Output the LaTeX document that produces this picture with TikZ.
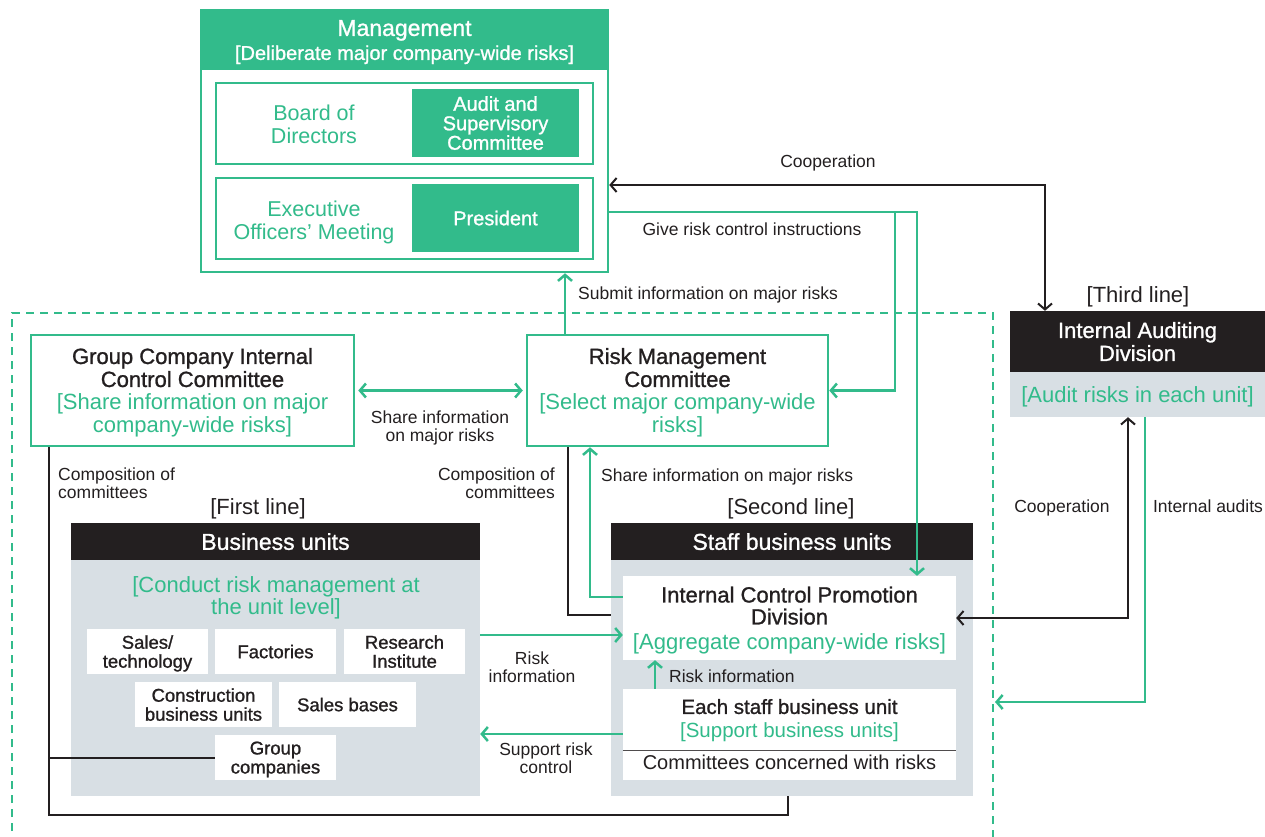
\documentclass[tikz,border=0pt]{standalone}
\usepackage{fontspec}
\setmainfont{Liberation Sans}
\newfontfamily\medfont[FakeBold=1.1]{Liberation Sans}
\usepackage{xcolor}
\usepackage{tikz}
\usetikzlibrary{arrows.meta,calc}
\definecolor{riskgreen}{RGB}{50,187,139}
\definecolor{riskblack}{RGB}{35,31,32}
\definecolor{riskgray}{RGB}{216,223,228}
\newcommand{\grn}[1]{{\normalfont\color{riskgreen}#1}}
\tikzset{framenode/.style={shape=rectangle,draw=riskgreen,line width=2.5pt,fill=white,inner sep=0pt,align=center,text depth=0pt,text=riskblack,font=\fontsize{22}{23}\selectfont\medfont},
	fillnode/.style={shape=rectangle,fill=riskgreen,inner sep=0pt,align=center,text depth=0pt,text=white,font=\fontsize{20}{19.5}\selectfont\medfont},
	headnode/.style={shape=rectangle,fill=riskblack,inner sep=0pt,align=center,text depth=0pt,text=white,font=\fontsize{23}{23}\selectfont\medfont},
	bodynode/.style={shape=rectangle,fill=riskgray,inner sep=0pt,align=center,text depth=0pt,font=\fontsize{22}{22}\selectfont},
	unitnode/.style={shape=rectangle,fill=white,inner sep=0pt,align=center,text depth=0pt,text=riskblack,minimum width=121,minimum height=45,font=\fontsize{18.5}{19}\selectfont\medfont},
	labelnode/.style={inner sep=0pt,align=center,text depth=0pt,text=riskblack,font=\fontsize{17.5}{18}\selectfont},
	linenode/.style={inner sep=0pt,text depth=0pt,text=riskblack,font=\fontsize{22}{22}\selectfont},
	grnline/.style={draw=riskgreen,line width=2.5pt},
	blkline/.style={draw=riskblack,line width=2pt}}

\begin{document}
\begin{tikzpicture}[x=1pt,y=-1pt,>={Straight Barb[length=6pt,width=14pt]}]
		\useasboundingbox (0,0) rectangle (1265,837);
		\draw[grnline,line width=2pt,dash pattern=on 8pt off 6pt] (12,845) |- (993,313) -- (993,845);
		%
		\node[framenode,minimum width=407,minimum height=262] (mgmt) at (404.5,141) {};
		\node[fillnode,minimum width=407,minimum height=60,font=\fontsize{23}{24}\selectfont\medfont] (mgmthead) at (404.5,40) {Management\\{\fontsize{20}{22}\selectfont [Deliberate major company-wide risks]}};
		\node[framenode,minimum width=377,minimum height=81] (board) at (404.5,123.5) {};
		\node[labelnode,text=riskgreen,font=\fontsize{21.5}{23}\selectfont] (boardtext) at (314,124) {Board of\\Directors};
		\node[fillnode,minimum width=167,minimum height=68] (audit) at (495.5,123) {Audit and\\Supervisory\\Committee};
		\node[framenode,minimum width=377,minimum height=81] (exec) at (404.5,218.5) {};
		\node[labelnode,text=riskgreen,font=\fontsize{21.5}{23}\selectfont] (exectext) at (314,220) {Executive\\Officers’ Meeting};
		\node[fillnode,minimum width=167,minimum height=68] (pres) at (495.5,218) {President};
		%
		\node[framenode,minimum width=323,minimum height=111] (gcic) at (192.5,390.5) {Group Company Internal\\Control Committee\\\grn{[Share information on major}\\\grn{company-wide risks]}};
		\node[framenode,minimum width=301,minimum height=111] (rmc) at (677.5,390.5) {Risk Management\\Committee\\\grn{[Select major company-wide}\\\grn{risks]}};
		%
		\node[headnode,minimum width=255,minimum height=61,font=\fontsize{22}{23}\selectfont\medfont] (iadhead) at (1137.5,341.5) {Internal Auditing\\Division};
		\node[bodynode,minimum width=255,minimum height=45] (iadbody) at (1137.5,394.5) {\grn{[Audit risks in each unit]}};
		%
		\node[headnode,minimum width=409,minimum height=37] (bhead) at (275.5,541.5) {Business units};
		\node[bodynode,minimum width=409,minimum height=236] (bbody) at (275.5,678) {};
		\node[bodynode,fill=none] (bconduct) at (276,596) {\grn{[Conduct risk management at}\\\grn{the unit level]}};
		\node[unitnode] (sales) at (147.5,651.5) {Sales/\\technology};
		\node[unitnode] (fact) at (275.5,651.5) {Factories};
		\node[unitnode] (research) at (404.5,651.5) {Research\\Institute};
		\node[unitnode,minimum width=137] (constr) at (203.5,704.5) {Construction\\business units};
		\node[unitnode,minimum width=137] (bases) at (347.5,704.5) {Sales bases};
		\node[unitnode] (groupco) at (275.5,757.5) {Group\\companies};
		%
		\node[headnode,minimum width=362,minimum height=37] (shead) at (792,541.5) {Staff business units};
		\node[bodynode,minimum width=362,minimum height=236] (sbody) at (792,678) {};
		\node[unitnode,minimum width=333,minimum height=84,font=\fontsize{22}{22}\selectfont\medfont] (icpd) at (789.5,618) {Internal Control Promotion\\Division\\[3pt]\grn{[Aggregate company-wide risks]}};
		\node[unitnode,minimum width=333,minimum height=91,font=\fontsize{20.5}{24}\selectfont\medfont] (each) at (789.5,734.5) {Each staff business unit\\\grn{[Support business units]}\\[8pt]{\normalfont\fontsize{20}{24}\selectfont Committees concerned with risks}};
		\draw[draw=riskblack!80,line width=1.2pt] ($(each.south west)+(0,-30)$) -- ($(each.south east)+(0,-30)$);
		%
		\node[linenode] (firstline) at (258,507) {[First line]};
		\node[linenode] (secondline) at (791,507) {[Second line]};
		\node[linenode] (thirdline) at (1138,295) {[Third line]};
		%
		\node[labelnode] (coopa) at (828,161) {Cooperation};
		\node[labelnode] (givetext) at (752,229) {Give risk control instructions};
		\node[labelnode,anchor=west] (submittext) at (578,293) {Submit information on major risks};
		\node[labelnode] (sharetext) at (440,426) {Share information\\on major risks};
		\node[labelnode,anchor=west,align=left] (compa) at (58,483) {Composition of\\committees};
		\node[labelnode,anchor=east,align=right] (compb) at (555,483) {Composition of\\committees};
		\node[labelnode,anchor=west] (shareup) at (601,475) {Share information on major risks};
		\node[labelnode] (riskinfo) at (532,667) {Risk\\information};
		\node[labelnode] (supporttext) at (546,758) {Support risk\\control};
		\node[labelnode,anchor=west] (riskinner) at (669,676) {Risk information};
		\node[labelnode] (coopb) at (1062,506) {Cooperation};
		\node[labelnode] (auditstext) at (1208,506) {Internal audits};
		%
		\coordinate (givebranch) at (895,212);
		\coordinate (auditend) at (995,702);
		%
		\draw[blkline,<->] (mgmt.east |- 0,185) -| (iadhead.north -| 1045,0);
		\draw[grnline,->] (mgmt.east |- 0,212) -| (icpd.north -| 917,0);
		\draw[grnline,->] (givebranch) |- (rmc.east);
		\draw[grnline,->] (rmc.north -| 565,0) -- (mgmt.south -| 565,0);
		\draw[grnline,<->,shorten <=3pt,shorten >=3pt] (gcic.east) -- (rmc.west);
		\draw[blkline] (gcic.south -| 49,0) -- (49,815) -| (sbody.south -| 788,0);
		\draw[blkline] (groupco.west -| 49,0) -- (groupco.west);
		\draw[blkline] (rmc.south -| 568,0) |- (sbody.west |- 0,615);
		\draw[grnline,->] (icpd.west |- 0,597) -| (rmc.south -| 590,0);
		\draw[grnline,->] (bbody.east |- 0,635) -- (icpd.west |- 0,635);
		\draw[grnline,->] (each.west |- 0,734) -- (bbody.east |- 0,734);
		\draw[grnline,->] (each.north -| 655,0) -- (icpd.south -| 655,0);
		\draw[blkline,<->] (iadbody.south -| 1128,0) |- (icpd.east);
		\draw[grnline,->] (iadbody.south -| 1145,0) |- (auditend);
	\end{tikzpicture}
\end{document}
